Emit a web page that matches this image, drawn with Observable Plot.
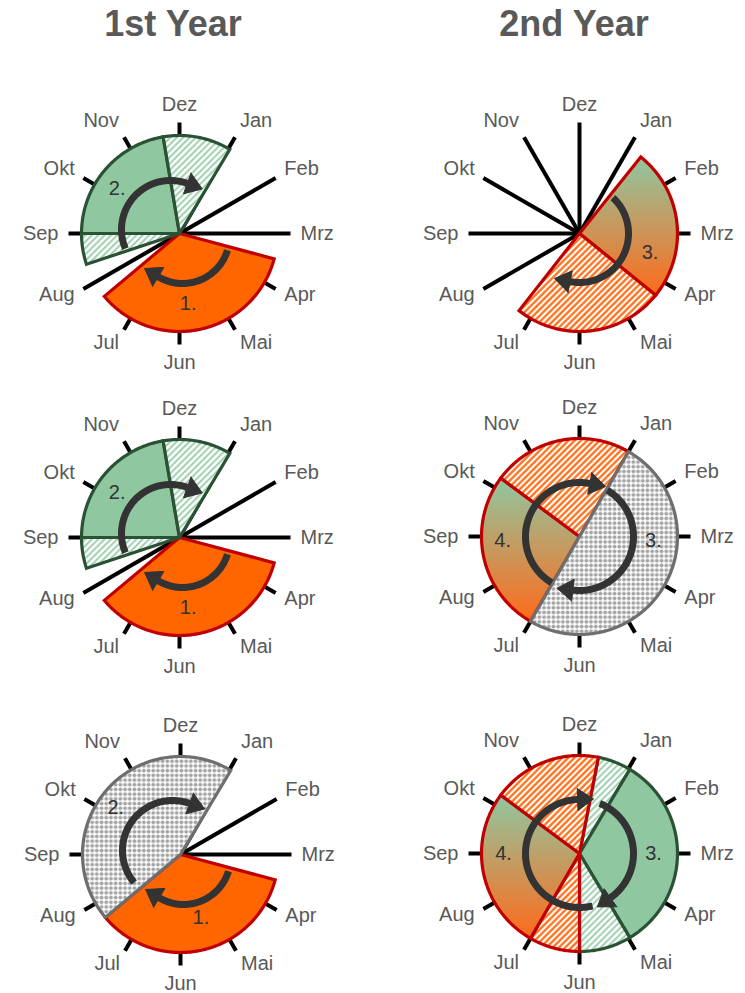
<!DOCTYPE html>
<html><head><meta charset="utf-8">
<script src="https://cdn.jsdelivr.net/npm/d3@7"></script>
<script src="https://cdn.jsdelivr.net/npm/@observablehq/plot@0.6"></script>
<style>
body{margin:0;overflow:hidden;background:#fff;font-family:"Liberation Sans",Arial,sans-serif;}
#page{position:relative;width:745px;height:993px;overflow:hidden;}
.title{position:absolute;top:6px;font-weight:bold;font-size:36px;line-height:36px;color:#595959;transform:translateX(-50%);white-space:nowrap;}
.panel{position:absolute;}
.panel svg{overflow:visible;}
</style></head><body>
<svg width="0" height="0" style="position:absolute">
<defs>
<linearGradient id="grad" x1="0" y1="0" x2="0" y2="1">
<stop offset="0" stop-color="#8fc7a1"/><stop offset="1" stop-color="#ff6a1a"/>
</linearGradient>
<pattern id="hatchO" patternUnits="userSpaceOnUse" width="4.4" height="4.4" patternTransform="rotate(45)">
<rect width="4.4" height="4.4" fill="#fff"/><line x1="2.2" y1="-1" x2="2.2" y2="5.4" stroke="#ff6a10" stroke-width="2.2"/>
</pattern>
<pattern id="hatchG" patternUnits="userSpaceOnUse" width="4.5" height="4.5" patternTransform="rotate(45)">
<rect width="4.5" height="4.5" fill="#fff"/><line x1="2.25" y1="-1" x2="2.25" y2="5.5" stroke="#8fc7a1" stroke-width="1.7"/>
</pattern>
<pattern id="dots" patternUnits="userSpaceOnUse" width="4.7" height="4.7">
<rect width="4.7" height="4.7" fill="#fff"/><circle cx="2.35" cy="2.35" r="1.9" fill="#a3a3a3"/>
</pattern>
</defs></svg>
<div id="page"></div>
<script>
// ---- data ----
const months = ["Dez","Jan","Feb","Mrz","Apr","Mai","Jun","Jul","Aug","Sep","Okt","Nov"];
const years = ["1st Year","2nd Year"];
// sectors in month units, clockwise from Dez (0)
const wedgesY1R1 = [
  {from: 3.5, to: 7.67, style: "orange"},
  {from: 8.39, to: 9, style: "greenHatch"},
  {from: 9, to: 11.68, style: "green"},
  {from: 11.68, to: 13.03, style: "greenHatch"}
];
const wedgesY1R2 = wedgesY1R1;
const wedgesY1R3 = [
  {from: 3.5, to: 7.67, style: "orange"},
  {from: 7.67, to: 13.03, style: "grey"}
];
const wedgesY2R1 = [
  {from: 1.29, to: 4.3, style: "gradient"},
  {from: 4.3, to: 7.27, style: "orangeHatch"}
];
const wedgesY2R2 = [
  {from: 7, to: 10.22, style: "gradient"},
  {from: 10.22, to: 13, style: "orangeHatch"},
  {from: 1, to: 7, style: "grey"}
];
const wedgesY2R3 = [
  {from: 0.37, to: 1.03, style: "greenHatch"},
  {from: 1.03, to: 4.97, style: "green"},
  {from: 4.97, to: 6, style: "greenHatch"},
  {from: 6, to: 7, style: "orangeHatch"},
  {from: 7, to: 10.22, style: "gradient"},
  {from: 10.22, to: 12.37, style: "orangeHatch"}
];
// curved arrows: degrees clockwise from Dez, arc radius, arc centre shift
const arrowsY1R1 = [{from: 247, to: 380, r: 49, dx: -9, dy: 4}, {from: 107, to: 211, r: 47, dx: 3, dy: -3}];
const arrowsY1R2 = arrowsY1R1;
const arrowsY1R3 = [{from: 230, to: 380, r: 50, dx: -8, dy: 4}, {from: 107, to: 211, r: 47, dx: 3, dy: -3}];
const arrowsY2R1 = [{from: 43, to: 191, r: 49, dx: 0, dy: 0}];
const arrowsY2R2 = [{from: 31, to: 187, r: 54, dx: 0, dy: 0}, {from: 211, to: 371, r: 54, dx: 0, dy: 0}];
const arrowsY2R3 = [{from: 22, to: 145, r: 54, dx: 0, dy: 0}, {from: 166, to: 358, r: 54, dx: 0, dy: 0}];
// phase numbers: degrees, radius
const numsY1R1 = [{t: "1.", deg: 173, r: 71}, {t: "2.", deg: 306, r: 77}];
const numsY1R2 = numsY1R1;
const numsY1R3 = [{t: "1.", deg: 162, r: 66}, {t: "2.", deg: 306, r: 80}];
const numsY2R1 = [{t: "3.", deg: 105, r: 73}];
const numsY2R2 = [{t: "4.", deg: 267, r: 77}, {t: "3.", deg: 93, r: 74}];
const numsY2R3 = [{t: "4.", deg: 270, r: 76}, {t: "3.", deg: 90, r: 74}];

// ---- styles ----
const styles = {
  orange: {fill: "#ff6600", stroke: "#c00000"},
  orangeHatch: {fill: "url(#hatchO)", stroke: "#c00000"},
  gradient: {fill: "url(#grad)", stroke: "#c00000"},
  green: {fill: "#8fc7a1", stroke: "#2b5235"},
  greenHatch: {fill: "url(#hatchG)", stroke: "#2b5235"},
  grey: {fill: "url(#dots)", stroke: "#6e6e6e"}
};
const R = 98, SPOKE = 111;
const rad = d => d * Math.PI / 180;
const pol = (r, deg, ox = 0, oy = 0) => ({x: ox + r * Math.sin(rad(deg)), y: oy + r * Math.cos(rad(deg))});
function sector(w) {
  const a0 = w.from * 30, a1 = w.to * 30, n = Math.max(2, Math.ceil(a1 - a0));
  const pts = [{x: 0, y: 0}];
  for (let k = 0; k <= n; k++) pts.push(pol(R, a0 + (a1 - a0) * k / n));
  pts.push({x: 0, y: 0});
  return pts;
}
function arcPts(a) {
  const n = Math.ceil(a.to - a.from), pts = [];
  for (let k = 0; k <= n; k++) pts.push(pol(a.r, a.from + (a.to - a.from) * k / n, a.dx, a.dy));
  return pts;
}
function headPts(a, L = 16, W = 22) {
  const t = rad(a.to), b = pol(a.r, a.to, a.dx, a.dy);
  const tx = Math.cos(t), ty = -Math.sin(t), rx = Math.sin(t), ry = Math.cos(t);
  const c1 = {x: b.x + rx * W / 2, y: b.y + ry * W / 2};
  const c2 = {x: b.x - rx * W / 2, y: b.y - ry * W / 2};
  const tip = {x: b.x + tx * L, y: b.y + ty * L};
  return [c1, tip, c2, c1];
}
// month label placement round the dial
const lab = months.map((m, i) => {
  const s = Math.sin(rad(i * 30)), c = Math.cos(rad(i * 30));
  const side = Math.abs(s) < 0.01 ? "middle" : s > 0 ? "start" : "end";
  return {m, side, x: side === "middle" ? 0 : 121 * s,
    y: c * (125 + 4 * c * c) + 2.2 * Math.abs(Math.sin(rad(i * 60)))};
});

function panel(wedges, arrows, nums, W, cx, H) {
  const marks = [
    Plot.link(months, {x1: 0, y1: 0, x2: (d, i) => pol(SPOKE, i * 30).x, y2: (d, i) => pol(SPOKE, i * 30).y,
      stroke: "#000", strokeWidth: 4, strokeLinecap: "butt"})
  ];
  for (const w of wedges) {
    const st = styles[w.style];
    marks.push(Plot.line(sector(w), {x: "x", y: "y", fill: st.fill, stroke: st.stroke, strokeWidth: 3.2,
      strokeLinejoin: "miter", strokeMiterlimit: 4, curve: "linear"}));
  }
  for (const a of arrows) {
    marks.push(Plot.line(arcPts(a), {x: "x", y: "y", stroke: "#333", strokeWidth: 7, strokeLinecap: "butt", curve: "linear"}));
    marks.push(Plot.line(headPts(a), {x: "x", y: "y", fill: "#333", stroke: "#333", strokeWidth: 1, curve: "linear"}));
  }
  for (const side of ["start", "middle", "end"]) {
    marks.push(Plot.text(lab.filter(d => d.side === side), {x: "x", y: "y", text: "m",
      fill: "#595959", fontSize: 20, textAnchor: side}));
  }
  marks.push(Plot.text(nums, {x: d => pol(d.r, d.deg).x, y: d => pol(d.r, d.deg).y, text: "t",
    fill: "#333", fontSize: 20, textAnchor: "middle"}));
  return Plot.plot({
    width: W, height: H, margin: 0,
    x: {domain: [-cx, W - cx], axis: null},
    y: {domain: [-(H - 152), 152], axis: null},
    style: {fontFamily: "Liberation Sans, Arial, sans-serif", background: "transparent", overflow: "visible"},
    marks
  });
}

const page = document.getElementById("page");
[[years[0], 173], [years[1], 574]].forEach(([t, x]) => {
  const d = document.createElement("div"); d.className = "title"; d.textContent = t; d.style.left = x + "px"; page.appendChild(d);
});
const layout = [
  [wedgesY1R1, arrowsY1R1, numsY1R1, 0, 81, 372, 179],
  [wedgesY2R1, arrowsY2R1, numsY2R1, 372, 81, 373, 207],
  [wedgesY1R2, arrowsY1R2, numsY1R2, 0, 385, 372, 179],
  [wedgesY2R2, arrowsY2R2, numsY2R2, 372, 384, 373, 207],
  [wedgesY1R3, arrowsY1R3, numsY1R3, 0, 702, 372, 180],
  [wedgesY2R3, arrowsY2R3, numsY2R3, 372, 701, 373, 207]
];
for (const [w, a, n, left, top, W, cx] of layout) {
  const div = document.createElement("div"); div.className = "panel";
  div.style.left = left + "px"; div.style.top = top + "px";
  div.appendChild(panel(w, a, n, W, cx, 304));
  page.appendChild(div);
}
</script>
</body></html>
